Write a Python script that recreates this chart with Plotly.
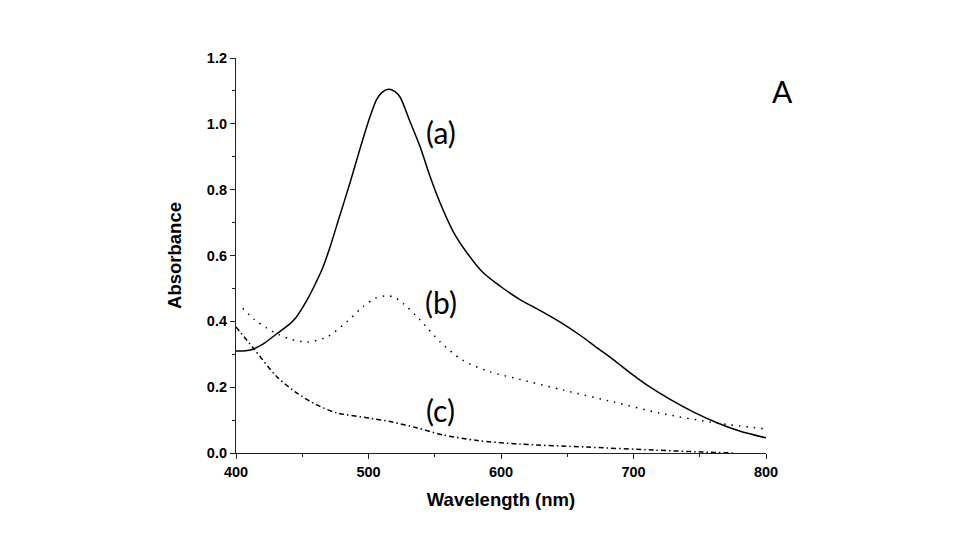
import plotly.graph_objects as go

# Curve (a) - solid
wl_a = [400, 410, 420, 430, 440, 445, 450, 455, 460, 465, 471, 478, 486, 494, 501, 506, 510, 515, 520, 524,
        531, 539, 546, 554, 564, 574, 586, 600, 614, 630, 645, 660, 672, 685, 697, 710, 728, 745,
        763, 780, 800]
abs_a = [0.310, 0.312, 0.33, 0.36, 0.39, 0.41, 0.44, 0.475, 0.515, 0.558, 0.626, 0.717, 0.82, 0.93, 1.02, 1.073,
         1.095, 1.105, 1.098, 1.08, 1.01, 0.93, 0.845, 0.76, 0.672, 0.61, 0.55, 0.505, 0.467, 0.432,
         0.397, 0.357, 0.321, 0.283, 0.245, 0.207, 0.162, 0.125, 0.092, 0.067, 0.046]

# Curve (b) - dotted
wl_b = [405, 414, 423, 432, 441, 454, 469, 484, 496, 505, 514, 520, 526, 539, 554, 571, 592, 614,
        647, 685, 720, 763, 800]
abs_b = [0.44, 0.405, 0.38, 0.36, 0.346, 0.337, 0.353, 0.40, 0.445, 0.47, 0.478, 0.472, 0.455,
         0.404, 0.338, 0.282, 0.246, 0.224, 0.191, 0.155, 0.121, 0.091, 0.073]

# Curve (c) - dash-dot
wl_c = [400, 413, 431, 446, 461, 476, 501, 518, 537, 556, 582, 614, 665, 715, 752, 775]
abs_c = [0.383, 0.319, 0.231, 0.182, 0.146, 0.122, 0.106, 0.094, 0.076, 0.055, 0.038, 0.027,
         0.018, 0.009, 0.003, 0.0]

labels = ["(a)", "(b)", "(c)"]
label_x = [555, 555, 554]
label_y = [0.975, 0.46, 0.13]
panel = "A"
panel_x = 1.032
panel_y = 0.9165

fig = go.Figure()
fig.add_trace(go.Scatter(x=wl_a, y=abs_a, mode="lines", line=dict(color="black", width=1.5, shape="spline", smoothing=0.8), showlegend=False))
fig.add_trace(go.Scatter(x=wl_b, y=abs_b, mode="lines", line=dict(color="black", width=1.5, dash="1.5px,6px", shape="spline", smoothing=0.8), showlegend=False))
fig.add_trace(go.Scatter(x=wl_c, y=abs_c, mode="lines", line=dict(color="black", width=1.5, dash="5px,3px,1.5px,3px", shape="spline", smoothing=0.8), showlegend=False))

for t, x, y in zip(labels, label_x, label_y):
    fig.add_annotation(x=x, y=y, text=t, showarrow=False, xref="x", yref="y",
                       xanchor="center", yanchor="middle",
                       font=dict(family="Lato", size=30, color="black"))
fig.add_annotation(x=panel_x, y=panel_y, xref="paper", yref="paper", text=panel, showarrow=False,
                   xanchor="center", yanchor="middle",
                   font=dict(family="Lato", size=30, color="black"))

axis_font = dict(family="Liberation Sans", size=14.5, color="black", weight="bold")
title_font = dict(family="Liberation Sans", size=18.5, color="black", weight="bold")
fig.update_layout(
    width=971, height=548,
    margin=dict(l=236, r=205, t=58, b=95),
    paper_bgcolor="white", plot_bgcolor="white",
    xaxis=dict(range=[400, 800], tickvals=[400, 500, 600, 700, 800], showgrid=False, zeroline=False,
               showline=True, linecolor="#222", linewidth=1.2, ticks="outside", ticklen=5, tickcolor="#222",
               tickfont=axis_font,
               minor=dict(tickvals=[450, 550, 650, 750], ticks="outside", ticklen=3, tickcolor="#222"),
               title=dict(text="Wavelength (nm)", font=title_font, standoff=14)),
    yaxis=dict(range=[0, 1.2], tickvals=[0, 0.2, 0.4, 0.6, 0.8, 1.0, 1.2], tickformat=".1f", showgrid=False, zeroline=False,
               showline=True, linecolor="#222", linewidth=1.2, ticks="outside", ticklen=5, tickcolor="#222",
               tickfont=axis_font,
               minor=dict(tickvals=[0.1, 0.3, 0.5, 0.7, 0.9, 1.1], ticks="outside", ticklen=3, tickcolor="#222"),
               title=dict(text="Absorbance", font=title_font, standoff=20)),
)

fig.write_html("out.html")
